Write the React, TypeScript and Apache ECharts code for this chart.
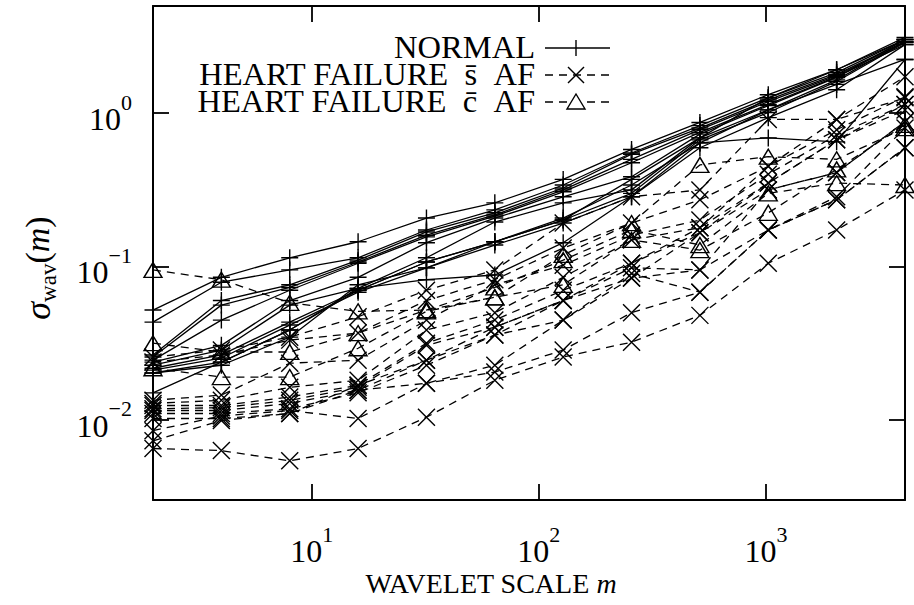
import React, { useEffect, useRef } from "react";
import * as echarts from "echarts";

// wavelet scales m = 2^1 .. 2^12
const scales = [2, 4, 8, 16, 32, 64, 128, 256, 512, 1024, 2048, 4096];

// NORMAL (solid, +)
const normal01 = [0.052, 0.085, 0.114, 0.145, 0.207, 0.26, 0.37, 0.58, 0.87, 1.32, 1.92, 3.12];
const normal02 = [0.0434, 0.079, 0.095, 0.114, 0.173, 0.234, 0.34, 0.55, 0.83, 1.26, 1.84, 3.02];
const normal03 = [0.0265, 0.06, 0.076, 0.11, 0.168, 0.224, 0.325, 0.54, 0.8, 1.22, 1.79, 2.93];
const normal04 = [0.0257, 0.056, 0.073, 0.107, 0.16, 0.217, 0.316, 0.5, 0.78, 1.19, 1.76, 2.89];
const normal05 = [0.0245, 0.0447, 0.07, 0.105, 0.156, 0.213, 0.307, 0.475, 0.75, 1.14, 1.73, 2.8];
const normal06 = [0.0238, 0.0306, 0.06, 0.085, 0.143, 0.207, 0.285, 0.385, 0.73, 1.12, 1.71, 3.02];
const normal07 = [0.0227, 0.0285, 0.056, 0.072, 0.114, 0.195, 0.26, 0.316, 0.69, 1.05, 1.65, 2.93];
const normal08 = [0.0217, 0.0265, 0.0434, 0.07, 0.107, 0.145, 0.201, 0.3, 0.67, 1.01, 1.61, 2.89];
const normal09 = [0.0211, 0.0253, 0.0415, 0.068, 0.098, 0.138, 0.192, 0.285, 0.64, 0.69, 0.65, 2.24];
const normal10 = [0.0202, 0.0238, 0.0385, 0.072, 0.082, 0.088, 0.143, 0.285, 0.595, 0.935, 1.42, 2.8];
const normal11 = [0.015, 0.0238, 0.0385, 0.07, 0.107, 0.145, 0.201, 0.37, 0.69, 1.26, 1.92, 3.02];
const normal12 = [0.0202, 0.0227, 0.0346, 0.076, 0.098, 0.145, 0.207, 0.34, 0.64, 1.05, 1.54, 2.24];

// HEART FAILURE without AF (dashed, x)
const hfNoAf01 = [0.0257, 0.0285, 0.0346, 0.047, 0.07, 0.095, 0.192, 0.285, 0.316, 0.91, 0.91, 1.73];
const hfNoAf02 = [0.0238, 0.0265, 0.0331, 0.0368, 0.06, 0.082, 0.132, 0.192, 0.272, 0.45, 0.78, 1.28];
const hfNoAf03 = [0.0134, 0.0145, 0.0234, 0.0245, 0.0447, 0.076, 0.102, 0.16, 0.201, 0.4, 0.72, 1.14];
const hfNoAf04 = [0.0128, 0.0134, 0.0163, 0.0181, 0.0385, 0.05, 0.085, 0.149, 0.179, 0.35, 0.67, 1.05];
const hfNoAf05 = [0.0124, 0.0124, 0.0141, 0.0168, 0.0316, 0.0447, 0.07, 0.105, 0.166, 0.316, 0.41, 0.88];
const hfNoAf06 = [0.0118, 0.012, 0.0134, 0.0163, 0.0306, 0.0402, 0.06, 0.098, 0.095, 0.173, 0.285, 0.8];
const hfNoAf07 = [0.0115, 0.0115, 0.0128, 0.0156, 0.0245, 0.0357, 0.0447, 0.09, 0.068, 0.173, 0.272, 0.595];
const hfNoAf08 = [0.011, 0.011, 0.0118, 0.015, 0.0227, 0.0357, 0.06, 0.084, 0.166, 0.35, 0.67, 1.14];
const hfNoAf09 = [0.0102, 0.0102, 0.011, 0.0156, 0.0173, 0.0227, 0.0447, 0.084, 0.095, 0.316, 0.41, 0.88];
const hfNoAf10 = [0.0085, 0.0106, 0.0115, 0.0102, 0.0173, 0.0205, 0.0285, 0.05, 0.068, 0.173, 0.272, 0.595];
const hfNoAf11 = [0.0073, 0.0099, 0.011, 0.0168, 0.0245, 0.0402, 0.06, 0.105, 0.179, 0.45, 0.91, 1.26];
const hfNoAf12 = [0.0065, 0.0063, 0.0054, 0.0065, 0.0104, 0.0181, 0.0257, 0.0321, 0.048, 0.105, 0.173, 0.316];

// HEART FAILURE with AF (dashed, triangle)
const hfAf01 = [0.095, 0.082, 0.058, 0.051, 0.052, 0.063, 0.119, 0.192, 0.46, 0.52, 0.5, 0.8];
const hfAf02 = [0.0316, 0.0277, 0.0277, 0.0368, 0.052, 0.073, 0.11, 0.173, 0.138, 0.3, 0.35, 0.34];
const hfAf03 = [0.0217, 0.019, 0.019, 0.0293, 0.051, 0.063, 0.076, 0.149, 0.128, 0.224, 0.43, 0.84];

const normalGroup = [normal01, normal02, normal03, normal04, normal05, normal06, normal07, normal08, normal09, normal10, normal11, normal12];
const hfNoAfGroup = [hfNoAf01, hfNoAf02, hfNoAf03, hfNoAf04, hfNoAf05, hfNoAf06, hfNoAf07, hfNoAf08, hfNoAf09, hfNoAf10, hfNoAf11, hfNoAf12];
const hfAfGroup = [hfAf01, hfAf02, hfAf03];

const legendLabels = ["NORMAL", "HEART FAILURE\u2002s\u0304\u2002AF", "HEART FAILURE\u2002c\u0304\u2002AF"];

const FONT = '"Liberation Serif", "DejaVu Serif", serif';
const PLUS = "path://M0,8L16,8M8,0L8,16";
const CROSS = "path://M0,0L16,16M16,0L0,16";
const TRI = "path://M8,0L16,14L0,14Z";

function expLabel(v: number) {
  const e = Math.round(Math.log10(v));
  const s = e < 0 ? "\u2212" + Math.abs(e) : String(e);
  return `{b|10}{e|${s}}`;
}

const tickRich = {
  b: { fontFamily: FONT, fontSize: 32, color: "#000", lineHeight: 44, verticalAlign: "bottom" },
  e: { fontFamily: FONT, fontSize: 22, color: "#000", lineHeight: 22, verticalAlign: "top" },
};

function makeSeries(vals: number[], kind: number) {
  const symbol = kind === 0 ? PLUS : kind === 1 ? CROSS : TRI;
  const size = kind === 2 ? [18, 15] : 17;
  return {
    type: "line",
    data: scales.map((m, i) => [m, vals[i]]),
    symbol,
    symbolSize: size,
    showAllSymbol: true,
    silent: true,
    lineStyle: { color: "#000", width: 1.3, type: kind === 0 ? "solid" : [8, 6] },
    itemStyle: {
      color: kind === 2 ? "rgba(0,0,0,0)" : "#000",
      borderColor: "#000",
      borderWidth: 1.4,
    },
    z: kind === 0 ? 3 : 2,
  };
}

export default function App() {
  const ref = useRef<HTMLDivElement>(null);
  useEffect(() => {
    document.body.style.margin = "0";
    const chart = echarts.init(ref.current!, null, { renderer: "svg" });

    const axisCommon = {
      axisLine: { show: true, lineStyle: { color: "#000", width: 2 } },
      axisTick: { show: true, inside: true, length: 16, lineStyle: { color: "#000", width: 1.8 } },
      splitLine: { show: false },
      minorTick: { show: false },
    };

    const series: any[] = [];
    normalGroup.forEach((v) => series.push(makeSeries(v, 0)));
    hfNoAfGroup.forEach((v) => series.push(makeSeries(v, 1)));
    hfAfGroup.forEach((v) => series.push(makeSeries(v, 2)));

    const lx0 = 545, lx1 = 610, lmx = 576;
    const ly = [48, 75, 102];
    const stroke = { stroke: "#000", lineWidth: 1.4 };
    const graphic: any[] = [
      {
        type: "text",
        x: 535,
        y: 75,
        scaleX: 1.05,
        style: {
          text: legendLabels.join("\n"),
          font: `31px ${FONT}`,
          lineHeight: 27,
          fill: "#000",
          textAlign: "right",
          textVerticalAlign: "middle",
          align: "right",
          verticalAlign: "middle",
        },
      },
      { type: "line", shape: { x1: lx0, y1: ly[0], x2: lx1, y2: ly[0] }, style: stroke },
      { type: "line", shape: { x1: lmx, y1: ly[0] - 8, x2: lmx, y2: ly[0] + 8 }, style: stroke },
      { type: "line", shape: { x1: lx0, y1: ly[1], x2: lx1, y2: ly[1] }, style: { ...stroke, lineDash: [8, 6] } },
      { type: "line", shape: { x1: lmx - 8, y1: ly[1] - 8, x2: lmx + 8, y2: ly[1] + 8 }, style: stroke },
      { type: "line", shape: { x1: lmx - 8, y1: ly[1] + 8, x2: lmx + 8, y2: ly[1] - 8 }, style: stroke },
      { type: "line", shape: { x1: lx0, y1: ly[2], x2: lx1, y2: ly[2] }, style: { ...stroke, lineDash: [8, 6] } },
      {
        type: "polygon",
        shape: { points: [[lmx, ly[2] - 8], [lmx + 9, ly[2] + 7], [lmx - 9, ly[2] + 7]] },
        style: { ...stroke, fill: "#fff" },
      },
      {
        type: "text",
        x: 491,
        y: 583,
        style: {
          text: "{n|WAVELET SCALE }{m|m}",
          textAlign: "center",
          textVerticalAlign: "middle",
          align: "center",
          verticalAlign: "middle",
          rich: {
            n: { fontFamily: FONT, fontSize: 28, color: "#000" },
            m: { fontFamily: FONT, fontSize: 28, fontStyle: "italic", color: "#000" },
          },
        },
      },
      {
        type: "text",
        x: 40,
        y: 268,
        rotation: Math.PI / 2,
        style: {
          text: "{s|\u03c3}{w|wav}{p|(}{m|m}{p|)}",
          textAlign: "center",
          textVerticalAlign: "middle",
          align: "center",
          verticalAlign: "middle",
          rich: {
            s: { fontFamily: FONT, fontSize: 36, fontStyle: "italic", color: "#000", lineHeight: 40, verticalAlign: "top" },
            w: { fontFamily: FONT, fontSize: 23, color: "#000", lineHeight: 24, verticalAlign: "bottom" },
            p: { fontFamily: FONT, fontSize: 34, color: "#000", lineHeight: 40, verticalAlign: "top" },
            m: { fontFamily: FONT, fontSize: 34, fontStyle: "italic", color: "#000", lineHeight: 40, verticalAlign: "top" },
          },
        },
      },
    ];

    chart.setOption({
      animation: false,
      backgroundColor: "#fff",
      grid: { left: 153, right: 9, top: 6, bottom: 105, containLabel: false },
      xAxis: [
        {
          type: "log",
          logBase: 10,
          min: 2,
          max: 4096,
          position: "bottom",
          ...axisCommon,
          axisLabel: {
            show: true,
            margin: 23,
            showMinLabel: false,
            showMaxLabel: false,
            formatter: (v: number) => expLabel(v),
            rich: tickRich,
          },
        },
        {
          type: "log",
          logBase: 10,
          min: 2,
          max: 4096,
          position: "top",
          ...axisCommon,
          axisLabel: { show: false },
        },
      ],
      yAxis: [
        {
          type: "log",
          logBase: 10,
          min: 0.003,
          max: 5,
          position: "left",
          ...axisCommon,
          axisLabel: {
            show: true,
            margin: 21,
            showMinLabel: false,
            showMaxLabel: false,
            formatter: (v: number) => expLabel(v),
            rich: tickRich,
          },
        },
        {
          type: "log",
          logBase: 10,
          min: 0.003,
          max: 5,
          position: "right",
          ...axisCommon,
          axisLabel: { show: false },
        },
      ],
      series,
      graphic,
    });
    return () => chart.dispose();
  }, []);
  return <div ref={ref} style={{ width: 914, height: 605 }} />;
}
